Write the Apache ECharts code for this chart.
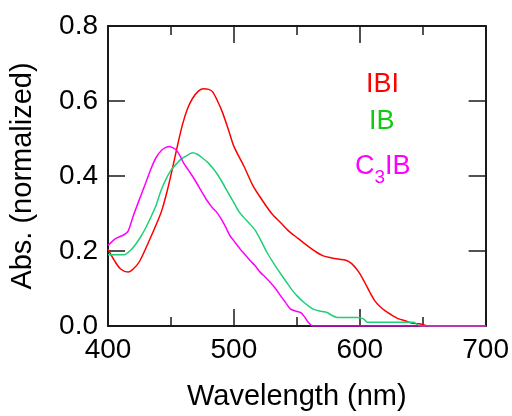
<!DOCTYPE html>
<html>
<head>
<meta charset="utf-8">
<script src="https://cdn.jsdelivr.net/npm/echarts@6/dist/echarts.min.js"></script>
<style>html,body{margin:0;padding:0;background:#fff;}#c{width:512px;height:416px;}</style>
</head>
<body>
<div id="c"></div>
<script>
var xTicks = [400, 500, 600, 700];
var yTicks = [0.0, 0.2, 0.4, 0.6, 0.8];

var ibiWl  = [400,405,410,416,420,425,432,440,443,447,451,455,459,463,467,472,476,480,483,487,491,496,500,508,515,522,530,537,543,550,558,566,571,577,584,590,594,599,604,608,612,616,620,625,631,636,641,647,653,656,700];
var ibiAbs = [0.205,0.175,0.152,0.144,0.152,0.172,0.222,0.284,0.311,0.36,0.417,0.478,0.535,0.578,0.606,0.627,0.633,0.631,0.625,0.6,0.569,0.52,0.479,0.426,0.375,0.338,0.300,0.276,0.255,0.236,0.215,0.196,0.187,0.182,0.178,0.174,0.165,0.145,0.116,0.09,0.067,0.052,0.041,0.03,0.019,0.014,0.008,0.006,0.001,0,0];

var ibWl  = [400,413,418,422,426,430,434,438,442,446,450,454,458,462,467,471,475,479,483,487,491,496,500,504,508,513,517,521,526,532,537,542,546,550,556,563,568,574,578,582,598,603,606,643,646,650,700];
var ibAbs = [0.19,0.19,0.202,0.218,0.238,0.262,0.29,0.32,0.36,0.391,0.415,0.431,0.445,0.453,0.462,0.458,0.448,0.437,0.422,0.404,0.382,0.352,0.329,0.305,0.289,0.271,0.255,0.231,0.198,0.165,0.14,0.116,0.097,0.081,0.062,0.045,0.04,0.036,0.028,0.023,0.023,0.019,0.01,0.01,0.003,0,0];

var c3ibWl  = [400,406,412,416,420,425,430,434,438,443,448.5,454,457,460,464,467,471,475,478,483,486,490,493,497,500,505,509,513,517,521,525,529,533,537,541,545,549,553,556,559,563,700];
var c3ibAbs = [0.215,0.233,0.242,0.253,0.293,0.338,0.382,0.418,0.448,0.470,0.479,0.47,0.455,0.435,0.415,0.40,0.378,0.355,0.338,0.315,0.305,0.285,0.267,0.24,0.227,0.205,0.19,0.174,0.16,0.143,0.13,0.116,0.1,0.081,0.063,0.045,0.04,0.036,0.025,0.01,0,0];

function pairs(xs, ys){ return xs.map(function(x,i){ return [x, ys[i]]; }); }

var FONT = 'Liberation Sans, Arial, sans-serif';
var frame = {show:true, onZero:false, lineStyle:{color:'#1a1a1a', width:2}};

var chart = echarts.init(document.getElementById('c'), null, {renderer:'canvas'});
chart.setOption({
  animation:false,
  backgroundColor:'#fff',
  grid:{left:107, right:26, top:26, bottom:89, containLabel:false},
  xAxis:[{
    type:'value', min:xTicks[0], max:xTicks[xTicks.length-1], interval:100,
    name:'Wavelength (nm)', nameLocation:'middle', nameGap:56,
    nameTextStyle:{fontFamily:FONT, fontSize:29, color:'#000'},
    axisLine:frame,
    axisTick:{show:true, inside:true, length:17, lineStyle:{color:'#1a1a1a', width:1.5}},
    minorTick:{show:true, splitNumber:2, length:9, lineStyle:{color:'#1a1a1a', width:1.5}},
    axisLabel:{fontFamily:FONT, fontSize:28, color:'#000', margin:10},
    splitLine:{show:false}
  },{
    type:'value', position:'top', min:xTicks[0], max:xTicks[xTicks.length-1], interval:100,
    axisLine:frame,
    axisTick:{show:true, inside:true, length:17, lineStyle:{color:'#1a1a1a', width:1.5}},
    minorTick:{show:true, splitNumber:2, length:9, lineStyle:{color:'#1a1a1a', width:1.5}},
    axisLabel:{show:false}, splitLine:{show:false}
  }],
  yAxis:[{
    type:'value', min:yTicks[0], max:yTicks[yTicks.length-1], interval:0.2,
    name:'Abs. (normalized)', nameLocation:'middle', nameGap:71, nameRotate:90,
    nameTextStyle:{fontFamily:FONT, fontSize:29, color:'#000'},
    axisLine:frame,
    axisTick:{show:true, inside:true, length:17, lineStyle:{color:'#1a1a1a', width:1.5}},
    axisLabel:{fontFamily:FONT, fontSize:28, color:'#000', margin:10,
      formatter:function(v){ return v.toFixed(1); }},
    splitLine:{show:false}
  },{
    type:'value', position:'right', min:yTicks[0], max:yTicks[yTicks.length-1], interval:0.2,
    axisLine:frame,
    axisTick:{show:true, inside:true, length:17, lineStyle:{color:'#1a1a1a', width:1.5}},
    axisLabel:{show:false}, splitLine:{show:false}
  }],
  series:[
    {name:'IBI', type:'line', data:pairs(ibiWl, ibiAbs), showSymbol:false, smooth:0.3,
     lineStyle:{color:'#ff0000', width:1.5}, z:3},
    {name:'IB', type:'line', data:pairs(ibWl, ibAbs), showSymbol:false, smooth:0.2,
     lineStyle:{color:'#1ecf78', width:1.5}, z:4},
    {name:'C3IB', type:'line', data:pairs(c3ibWl, c3ibAbs), showSymbol:false, smooth:0.2,
     lineStyle:{color:'#ff00ff', width:1.5}, z:5}
  ],
  graphic:[
    {type:'text', left:366, top:71, style:{text:'IBI', font:'27px '+FONT, fill:'#ff0000'}},
    {type:'text', left:369, top:108, style:{text:'IB', font:'27px '+FONT, fill:'#10cc10'}},
    {type:'text', left:355, top:153, style:{
      text:'{a|C}{b|3}{a|IB}',
      rich:{
        a:{fontFamily:FONT, fontSize:27, fill:'#ff00ff', color:'#ff00ff', verticalAlign:'bottom', lineHeight:28},
        b:{fontFamily:FONT, fontSize:19, fill:'#ff00ff', color:'#ff00ff', verticalAlign:'bottom', lineHeight:20, padding:[0,0,-7,0]}
      }}}
  ]
});
</script>
</body>
</html>
